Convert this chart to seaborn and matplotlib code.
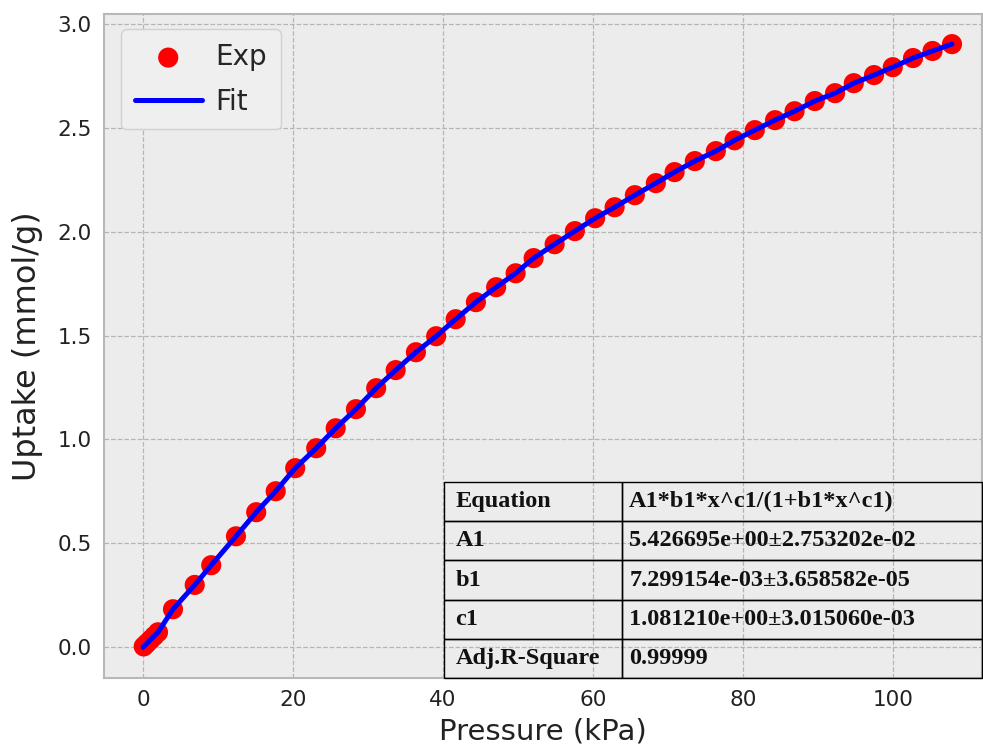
import matplotlib
matplotlib.use("Agg")
import matplotlib.pyplot as plt
import seaborn as sns
import pandas as pd

pressure = [0.1, 0.5, 1.0, 1.5, 2.0, 4.0, 6.9, 9.1, 12.4, 15.1, 17.7, 20.3, 23.1, 25.7,
            28.4, 31.1, 33.7, 36.4, 39.1, 41.7, 44.4, 47.1, 49.7, 52.1, 54.9, 57.6,
            60.3, 62.9, 65.6, 68.4, 70.9, 73.6, 76.4, 78.9, 81.6, 84.3, 86.9, 89.6,
            92.3, 94.8, 97.5, 100.0, 102.7, 105.3, 107.9]
uptake = [0.004, 0.018, 0.036, 0.054, 0.072, 0.183, 0.300, 0.395, 0.534, 0.650, 0.751,
          0.862, 0.958, 1.054, 1.146, 1.247, 1.334, 1.420, 1.497, 1.579, 1.661, 1.733,
          1.800, 1.873, 1.940, 2.003, 2.065, 2.118, 2.176, 2.234, 2.287, 2.340, 2.388,
          2.440, 2.489, 2.537, 2.580, 2.629, 2.667, 2.715, 2.754, 2.792, 2.836, 2.870,
          2.903]

# Fit curve points (passes through the data)
fit_x = [0.0] + pressure
fit_y = [0.0] + uptake

table_rows = [
    ["Equation", "A1*b1*x^c1/(1+b1*x^c1)"],
    ["A1", "5.426695e+00\u00b12.753202e-02"],
    ["b1", "7.299154e-03\u00b13.658582e-05"],
    ["c1", "1.081210e+00\u00b13.015060e-03"],
    ["Adj.R-Square", "0.99999"],
]

x_ticks = [0, 20, 40, 60, 80, 100]
y_ticks = [0.0, 0.5, 1.0, 1.5, 2.0, 2.5, 3.0]

sns.set_style("whitegrid", {
    "axes.facecolor": "#ececec",
    "axes.edgecolor": "#b8b8b8",
    "grid.color": "#b5b5b5",
    "grid.linestyle": "--",
})
plt.rcParams['font.family'] = ['DejaVu Sans']

fig = plt.figure(figsize=(9.83, 7.49), dpi=100)
ax_left, ax_bottom_px, ax_w, ax_h = 104, 678, 878, 664
ax = fig.add_axes([ax_left / 983, 1 - ax_bottom_px / 749, ax_w / 983, ax_h / 749])

df_exp = pd.DataFrame({"x": pressure, "y": uptake})
df_fit = pd.DataFrame({"x": fit_x, "y": fit_y})

sns.scatterplot(data=df_exp, x="x", y="y", ax=ax, color="#ff0000", s=210,
                edgecolor="none", label="Exp", zorder=3)
sns.lineplot(data=df_fit, x="x", y="y", ax=ax, color="#0000ff", linewidth=3.6,
             label="Fit", zorder=4, sort=False)

ax.set_xlim(-5.2, 111.9)
ax.set_ylim(-0.148, 3.048)
ax.set_xticks(x_ticks)
ax.set_yticks(y_ticks)
ax.set_yticklabels([f"{v:.1f}" for v in y_ticks])
ax.grid(True, linestyle="--", color="#b5b5b5", linewidth=0.9)
for sp in ax.spines.values():
    sp.set_linewidth(1.5)
    sp.set_color("#b8b8b8")

ax.tick_params(axis="both", direction="in", length=6, width=1.5, color="black",
               labelsize=15.5, labelcolor="#222222", pad=9)
ax.tick_params(top=False, right=False)

ax.set_xlabel("Pressure (kPa)", fontsize=21, color="#222222", labelpad=5)
ax.set_ylabel("Uptake (mmol/g)", fontsize=23, color="#222222", labelpad=10)

leg = ax.legend(loc="upper left", fontsize=20, frameon=True, fancybox=True,
                borderpad=0.5, handlelength=2.4, handletextpad=0.5,
                labelspacing=0.6, markerscale=1.0, borderaxespad=0.0,
                bbox_to_anchor=(17 / ax_w, 1 - 15 / ax_h))
leg.get_frame().set_facecolor("#efefef")
leg.get_frame().set_edgecolor("#d0d0d0")
leg.get_frame().set_alpha(1.0)

tbl = ax.table(cellText=table_rows, cellLoc="left", colWidths=[178 / ax_w, 360 / ax_w],
               bbox=[(444 - ax_left) / ax_w, 0.0, 538 / ax_w, (ax_bottom_px - 482) / ax_h],
               zorder=5)
tbl.auto_set_font_size(False)
for (r, c), cell in tbl.get_celld().items():
    cell.set_facecolor("none")
    cell.set_edgecolor("black")
    cell.set_linewidth(1.0)
    cell.PAD = 0.065 if c == 0 else 0.02
    t = cell.get_text()
    t.set_fontsize(17.5)
    t.set_fontfamily("Liberation Serif")
    t.set_fontweight("bold")
    t.set_color("#111111")

fig.savefig("out.png", dpi=100)
